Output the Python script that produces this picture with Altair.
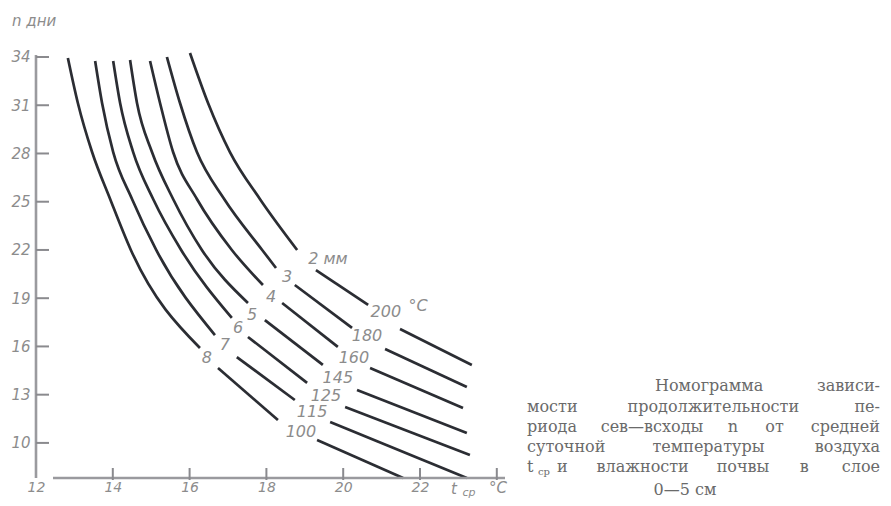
import altair as alt
import pandas as pd

# ---------------- data (t: °C, n: days) ----------------
# seven curves, each drawn in three pieces (gaps hold the labels)
c1_t = [16.01, 16.48, 17.05, 17.83, 18.80, 19.29, 20.65, 21.48, 23.35]
c1_n = [34.25, 31.14, 28.09, 25.17, 22.00, 20.75, 18.58, 17.08, 14.85]
c1_s = [0, 0, 0, 0, 0, 1, 1, 2, 2]
c2_t = [15.41, 15.75, 16.19, 16.90, 17.89, 18.25, 18.74, 20.23, 21.09, 23.22]
c2_n = [34.00, 31.14, 28.09, 25.17, 22.00, 20.88, 19.82, 17.15, 15.84, 13.48]
c2_s = [0, 0, 0, 0, 0, 0, 1, 1, 2, 2]
c3_t = [14.97, 15.23, 15.57, 16.19, 17.10, 17.91, 18.41, 19.86, 20.70, 23.12]
c3_n = [33.75, 31.14, 28.09, 25.17, 22.00, 19.82, 18.70, 15.97, 14.66, 12.17]
c3_s = [0, 0, 0, 0, 0, 0, 1, 1, 2, 2]
c4_t = [14.45, 14.63, 15.02, 15.57, 16.32, 17.52, 17.96, 19.47, 20.36, 23.22]
c4_n = [33.81, 31.14, 28.09, 25.17, 22.00, 18.70, 17.64, 14.85, 13.29, 10.62]
c4_s = [0, 0, 0, 0, 0, 0, 1, 1, 2, 2]
c5_t = [14.01, 14.19, 14.53, 15.05, 15.78, 17.10, 17.52, 19.06, 20.05, 23.30]
c5_n = [33.75, 31.14, 28.09, 25.17, 22.00, 17.77, 16.59, 13.73, 12.23, 9.25]
c5_s = [0, 0, 0, 0, 0, 0, 1, 1, 2, 2]
c6_t = [13.54, 13.72, 14.01, 14.50, 15.13, 16.66, 17.23, 18.74, 19.66, 23.22]
c6_n = [33.75, 31.14, 28.09, 25.17, 22.00, 16.71, 15.34, 12.67, 11.30, 7.82]
c6_s = [0, 0, 0, 0, 0, 0, 1, 1, 2, 2]
c7_t = [12.83, 13.09, 13.46, 13.93, 14.47, 16.27, 16.74, 18.30, 19.32, 21.56]
c7_n = [33.94, 31.14, 28.09, 25.17, 22.00, 15.90, 14.66, 11.43, 10.18, 7.82]
c7_s = [0, 0, 0, 0, 0, 0, 1, 1, 2, 2]

# labels: soil moisture (mm) and temperature sums (°C)
prec_labels = ["2 мм", "3", "4", "5", "6", "7", "8"]
prec_t = [19.60, 18.54, 18.12, 17.63, 17.26, 16.92, 16.45]
prec_n = [21.44, 20.32, 19.07, 17.96, 17.15, 16.09, 15.28]
temp_labels = ["200", "180", "160", "145", "125", "115", "100"]
temp_t = [21.11, 20.62, 20.28, 19.86, 19.55, 19.19, 18.90]
temp_n = [18.14, 16.65, 15.28, 14.04, 12.92, 11.92, 10.68]

x_ticks = [14, 16, 18, 20, 22, 24]
x_tick_labels = [12, 14, 16, 18, 20, 22]
y_ticks = [10, 13, 16, 19, 22, 25, 28, 31, 34]

caption_lines = [
    ["Номограмма", "зависи-"],
    ["мости", "продолжительности", "пе-"],
    ["риода", "сев—всходы", "n", "от", "средней"],
    ["суточной", "температуры", "воздуха"],
    ["и", "влажности", "почвы", "в", "слое"],
]
caption_last = "0—5 см"

# ---------------- layout ----------------
W, H = 847, 433
XPX, YPX = 38.4, 16.08
X0 = 12.0
X1 = X0 + W / XPX
Y1 = 34.746
Y0 = Y1 - H / YPX


def tx(px):
    return X0 + px / XPX


def ny(py):
    return Y1 - py / YPX


rows = []
curves = [(c1_t, c1_n, c1_s), (c2_t, c2_n, c2_s), (c3_t, c3_n, c3_s), (c4_t, c4_n, c4_s),
          (c5_t, c5_n, c5_s), (c6_t, c6_n, c6_s), (c7_t, c7_n, c7_s)]
for ci, (ts, ns, ss) in enumerate(curves):
    for t, n, s in zip(ts, ns, ss):
        rows.append({"t": t, "n": n, "key": f"{ci}-{s}"})
curve_df = pd.DataFrame(rows)

xs = alt.Scale(domain=[X0, X1], nice=False, zero=False)
ys = alt.Scale(domain=[Y0, Y1], nice=False, zero=False)
GREY = "#8c8c8c"

lines = alt.Chart(curve_df).mark_line(color="#2b2d33", strokeWidth=2.7, interpolate="monotone").encode(
    x=alt.X("t:Q", scale=xs, axis=alt.Axis(values=x_tick_labels, domain=False, ticks=False, grid=False,
                                           labelFlush=False, labelPadding=2, labelFontSize=14,
                                           labelFont="DejaVu Sans", labelFontStyle="italic",
                                           labelColor=GREY, title=None)),
    y=alt.Y("n:Q", scale=ys, axis=alt.Axis(values=y_ticks, domain=False, ticks=False, grid=False,
                                           labelFlush=False, labelPadding=6, labelFontSize=15,
                                           labelFont="DejaVu Sans", labelFontStyle="italic",
                                           labelColor=GREY, title=None)),
    detail="key:N",
    order="t:Q",
)

axis_df = pd.DataFrame({"t": [12.0, tx(17)], "t2": [12.0, tx(469)],
                        "n": [Y0, Y0], "n2": [ny(10), Y0]})
axis_lines = alt.Chart(axis_df).mark_rule(color="#9a9a9e", strokeWidth=2.6).encode(
    x=alt.X("t:Q", scale=xs), x2="t2:Q", y=alt.Y("n:Q", scale=ys), y2="n2:Q")

ytick = alt.Chart(pd.DataFrame({"n": y_ticks})).mark_rule(color="#8a8a8e", strokeWidth=2).encode(
    y=alt.Y("n:Q", scale=ys), x=alt.value(0), x2=alt.value(13))
xtick = alt.Chart(pd.DataFrame({"t": x_ticks})).mark_rule(color="#8a8a8e", strokeWidth=2).encode(
    x=alt.X("t:Q", scale=xs), y=alt.value(H - 10), y2=alt.value(H + 2))

lab_style = dict(font="DejaVu Sans", fontStyle="italic", fontSize=16, color=GREY,
                 align="center", baseline="middle")
prec = alt.Chart(pd.DataFrame({"t": prec_t, "n": prec_n, "s": prec_labels})).mark_text(**lab_style).encode(
    x=alt.X("t:Q", scale=xs), y=alt.Y("n:Q", scale=ys), text="s:N")
temp = alt.Chart(pd.DataFrame({"t": temp_t, "n": temp_n, "s": temp_labels})).mark_text(**lab_style).encode(
    x=alt.X("t:Q", scale=xs), y=alt.Y("n:Q", scale=ys), text="s:N")

ann_df = pd.DataFrame({
    "t": [tx(382), tx(418), tx(433), tx(462), tx(-24)],
    "n": [ny(261), ny(444), ny(448), ny(443), ny(-24)],
    "s": ["°C", "t", "ср", "°C", "n   дни"],
    "fs": [16, 15, 11, 15, 15],
})
ann_c = alt.Chart(ann_df.iloc[:4]).mark_text(font="DejaVu Sans", fontStyle="italic", color=GREY,
                                              align="center", baseline="middle").encode(
    x=alt.X("t:Q", scale=xs), y=alt.Y("n:Q", scale=ys), text="s:N",
    size=alt.Size("fs:Q", scale=None, legend=None))
ann_l = alt.Chart(ann_df.iloc[4:]).mark_text(font="DejaVu Sans", fontStyle="italic", color=GREY,
                                              align="left", baseline="middle").encode(
    x=alt.X("t:Q", scale=xs), y=alt.Y("n:Q", scale=ys), text="s:N",
    size=alt.Size("fs:Q", scale=None, legend=None))

# ---- caption, justified word by word ----
CW = 9.8
line_start = [619, 491, 491, 491, 521]
line_end = 844
line_y = [341, 362, 382, 402, 422]
cap_rows = {"left": [], "center": [], "right": []}
for words, L, py in zip(caption_lines, line_start, line_y):
    lens = [len(w) * CW for w in words]
    gap = (line_end - L - sum(lens)) / (len(words) - 1)
    x = L
    for i, (w, wl) in enumerate(zip(words, lens)):
        if i == 0:
            cap_rows["left"].append({"t": tx(L), "n": ny(py), "s": w})
        elif i == len(words) - 1:
            cap_rows["right"].append({"t": tx(line_end), "n": ny(py), "s": w})
        else:
            cap_rows["center"].append({"t": tx(x + wl / 2), "n": ny(py), "s": w})
        x += wl + gap
cap_rows["left"].append({"t": tx(491), "n": ny(422), "s": "t"})
cap_rows["center"].append({"t": tx(649), "n": ny(445), "s": caption_last})

cap_layers = []
for al, rr in cap_rows.items():
    cap_layers.append(alt.Chart(pd.DataFrame(rr)).mark_text(
        font="DejaVu Serif", fontSize=16, color="#6a6a6a", align=al, baseline="middle").encode(
        x=alt.X("t:Q", scale=xs), y=alt.Y("n:Q", scale=ys), text="s:N"))
sub = alt.Chart(pd.DataFrame({"t": [tx(502)], "n": [ny(427)], "s": ["ср"]})).mark_text(
    font="DejaVu Serif", fontSize=10, color="#6a6a6a", align="left", baseline="middle").encode(
    x=alt.X("t:Q", scale=xs), y=alt.Y("n:Q", scale=ys), text="s:N")

chart = alt.layer(lines, axis_lines, ytick, xtick, prec, temp, ann_c, ann_l, *cap_layers, sub).properties(
    width=W, height=H,
    autosize=alt.AutoSizeParams(type="none"),
    padding={"left": 28, "top": 37, "right": 0, "bottom": 20},
    background="white",
).configure_view(stroke=None)

chart.save("out.html", embed_options={"renderer": "svg", "actions": False})
